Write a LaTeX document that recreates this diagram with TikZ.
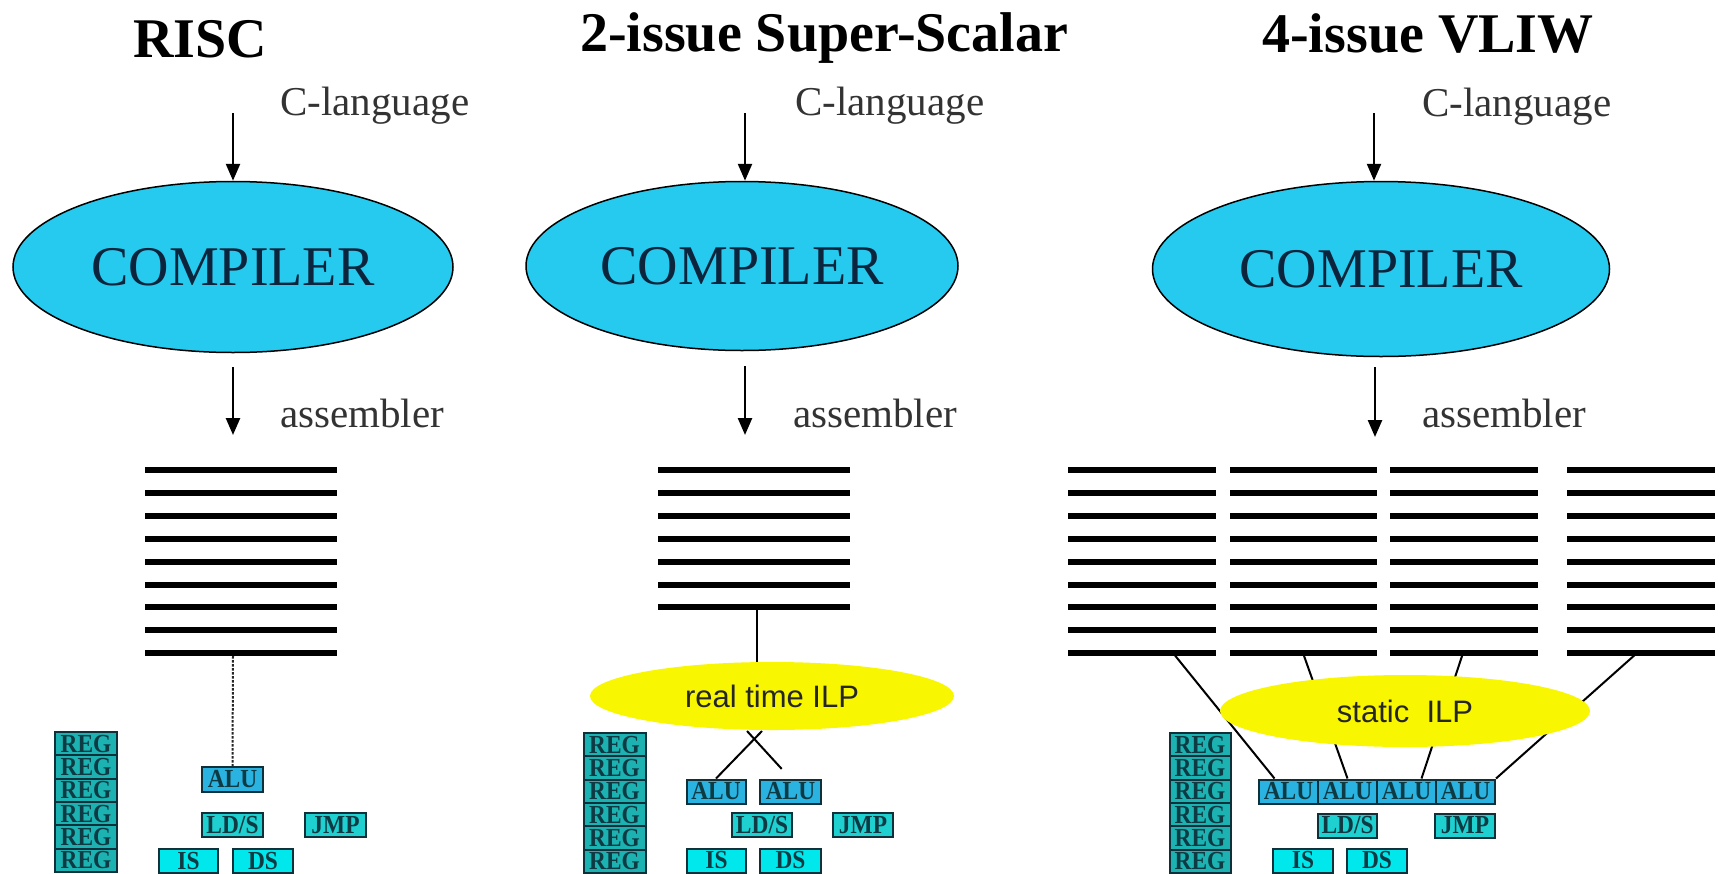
\documentclass[tikz,border=0pt]{standalone}
\usepackage{graphicx}
\usepackage{fontspec}
\setmainfont{Liberation Serif}
\newfontfamily\arialf{Liberation Sans}
\usetikzlibrary{shapes.geometric,arrows.meta}

\definecolor{compfill}{RGB}{38,202,238}
\definecolor{comptext}{RGB}{12,36,60}
\definecolor{ilpfill}{RGB}{248,246,0}
\definecolor{regfill}{RGB}{28,178,178}
\definecolor{alufill}{RGB}{42,178,224}
\definecolor{ldfill}{RGB}{30,208,208}
\definecolor{isfill}{RGB}{0,232,236}
\definecolor{fudraw}{RGB}{14,48,58}
\definecolor{futext}{RGB}{14,58,68}

% narrow bold label used inside the functional-unit boxes
\newcommand{\fulabel}[1]{\scalebox{0.9}[1]{#1}}

\tikzset{
  heading/.style={anchor=base west, inner sep=0, font=\fontsize{56}{60}\selectfont\bfseries},
  lbl/.style={anchor=base west, inner sep=0, text=black!80, font=\fontsize{41}{44}\selectfont},
  compiler/.style={ellipse, draw=black, line width=1.5pt, fill=compfill, inner sep=0,
    text=comptext, font=\fontsize{56}{60}\selectfont},
  ilp/.style={ellipse, fill=ilpfill, inner sep=0, text=black!85, font=\arialf\fontsize{31}{34}\selectfont},
  flow/.style={line width=2.5pt, -{Triangle[width=14pt,length=17pt]}},
  codeline/.style={line width=6pt},
  link/.style={line width=2pt},
  fu/.style={rectangle, draw=fudraw, line width=2pt, inner sep=0, text=futext,
    minimum height=24pt, font=\fontsize{26}{26}\selectfont\bfseries},
  reg/.style={fu, fill=regfill, minimum width=62pt, minimum height=23.3pt},
  alu/.style={fu, fill=alufill, minimum width=59pt},
  ldst/.style={fu, fill=ldfill, minimum width=60pt},
  fetch/.style={fu, fill=isfill, minimum width=60pt},
}

\begin{document}
\begin{tikzpicture}[x=1pt,y=-1pt]
\useasboundingbox (0,0) rectangle (1723,873);
\clip (0,0) rectangle (1723,873);
\fill[white] (0,0) rectangle (1723,873);

% ---------------- RISC ----------------
\node[heading] (head1) at (133,57) {RISC};
\node[lbl] (clang1) at (280,115) {C-language};
\node[compiler, minimum width=440pt, minimum height=171pt] (comp1) at (233,267) {COMPILER};
\node[lbl] (asm1) at (280,427) {assembler};
\coordinate (in1) at (233,113);
\coordinate (out1) at (233,435);
\draw[flow] (in1) -- (comp1.north);
\draw[flow, shorten <=14pt] (comp1.south) -- (out1);
\foreach \i in {0,...,8}
  \draw[codeline] (145,470+22.9*\i) -- (337,470+22.9*\i);
\coordinate (code1) at (233,656);

\foreach \i in {0,...,5}
  \node[reg] (reg1\i) at (86,743.65+23.3*\i) {\fulabel{REG}};
\node[alu, minimum width=61pt, minimum height=25pt] (alu1) at (232.5,779.5) {\fulabel{ALU}};
\node[ldst, minimum width=61pt] (lds1) at (232.5,825) {\fulabel{LD/S}};
\node[ldst, minimum width=61pt] (jmp1) at (335.5,825) {\fulabel{JMP}};
\node[fetch, minimum width=59pt] (is1) at (188.5,861) {\fulabel{IS}};
\node[fetch] (ds1) at (263,861) {\fulabel{DS}};
\draw[link, black!85, dash pattern=on 2.5pt off 1.5pt] (code1) -- (alu1.north);

% ---------------- 2-issue Super-Scalar ----------------
\node[heading] (head2) at (580,51) {2-issue Super-Scalar};
\node[lbl] (clang2) at (795,115) {C-language};
\node[compiler, minimum width=432pt, minimum height=169pt] (comp2) at (742,266) {COMPILER};
\node[lbl] (asm2) at (793,427) {assembler};
\coordinate (in2) at (745,113);
\coordinate (out2) at (745,435);
\draw[flow] (in2) -- (in2 |- comp2.north);
\draw[flow] (745,366) -- (out2);
\foreach \i in {0,...,6}
  \draw[codeline] (658,470+22.9*\i) -- (850,470+22.9*\i);
\coordinate (code2) at (757,607);

\node[ilp, minimum width=364pt, minimum height=68pt] (ilp2) at (772,696) {real time ILP};
\draw[link] (code2) -- (code2 |- ilp2.north);

\foreach \i in {0,...,5}
  \node[reg] (reg2\i) at (614.5,744.65+23.3*\i) {\fulabel{REG}};
\node[alu] (alu21) at (716,791.5) {\fulabel{ALU}};
\node[alu, minimum width=61pt] (alu22) at (790.5,791.5) {\fulabel{ALU}};
\node[ldst] (lds2) at (762,825) {\fulabel{LD/S}};
\node[ldst] (jmp2) at (863,825) {\fulabel{JMP}};
\node[fetch, minimum width=59pt] (is2) at (716.5,860.5) {\fulabel{IS}};
\node[fetch, minimum width=61pt] (ds2) at (790.5,860.5) {\fulabel{DS}};
\coordinate (xa) at (762,731);
\coordinate (xb) at (747,731);
\draw[link] (xa) -- (alu21.north);
\draw[link, shorten >=13pt] (xb) -- (alu22.north);

% ---------------- 4-issue VLIW ----------------
\node[heading] (head3) at (1262,52) {4-issue VLIW};
\node[lbl] (clang3) at (1422,116) {C-language};
\node[compiler, minimum width=457pt, minimum height=175pt] (comp3) at (1381,269) {COMPILER};
\node[lbl] (asm3) at (1422,427) {assembler};
\coordinate (in3) at (1374,113);
\coordinate (out3) at (1375,437);
\draw[flow] (in3) -- (in3 |- comp3.north);
\draw[flow] (1375,367) -- (out3);
\foreach \a/\b in {1068/1216, 1230/1377, 1390/1538, 1567/1715}
  \foreach \i in {0,...,8}
    \draw[codeline] (\a,470+22.9*\i) -- (\b,470+22.9*\i);
\coordinate (code31) at (1173,653);
\coordinate (code32) at (1303,653);
\coordinate (code33) at (1463,653);
\coordinate (code34) at (1637,653);

\foreach \i in {0,...,5}
  \node[reg, minimum width=61pt] (reg3\i) at (1200,744.65+23.3*\i) {\fulabel{REG}};
\node[alu] (alu31) at (1288.5,791.5) {\fulabel{ALU}};
\node[alu] (alu32) at (1347.5,791.5) {\fulabel{ALU}};
\node[alu] (alu33) at (1406.5,791.5) {\fulabel{ALU}};
\node[alu] (alu34) at (1465.5,791.5) {\fulabel{ALU}};
\node[ldst, minimum width=59pt] (lds3) at (1347.5,825.5) {\fulabel{LD/S}};
\node[ldst] (jmp3) at (1465,825.5) {\fulabel{JMP}};
\node[fetch] (is3) at (1303,860.5) {\fulabel{IS}};
\node[fetch] (ds3) at (1377,860.5) {\fulabel{DS}};

\draw[link] (code31) -- ([xshift=-14pt]alu31.north);
\draw[link] (code32) -- (alu32.north);
\draw[link] (code33) -- ([xshift=15pt]alu33.north);
\draw[link] (code34) -- (alu34.north east);
\node[ilp, minimum width=370pt, minimum height=72pt] (ilp3) at (1405,711) {static\ \ ILP};
\end{tikzpicture}
\end{document}
